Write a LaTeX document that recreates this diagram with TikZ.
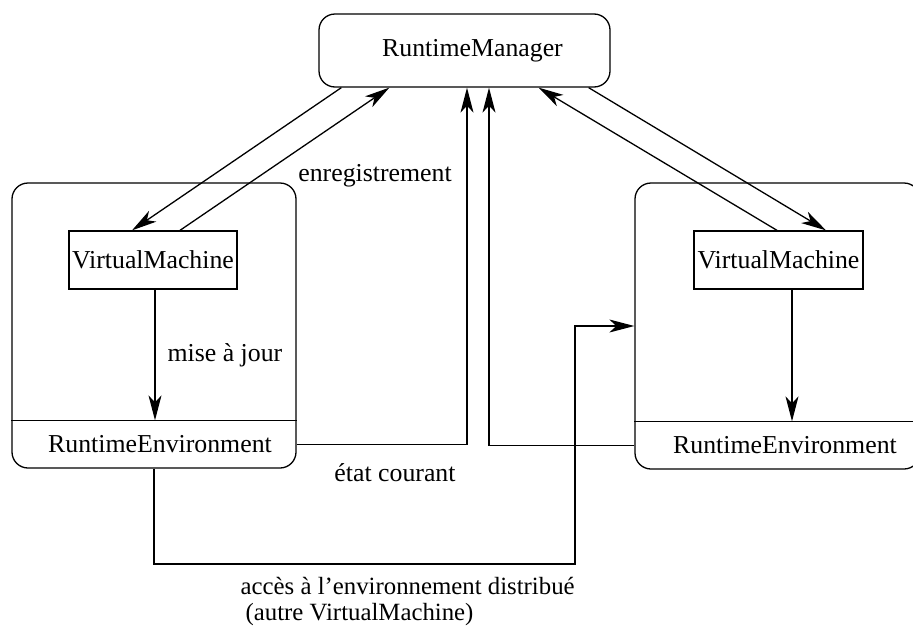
\documentclass[tikz,border=0pt]{standalone}
\usepackage{fontspec}
\setmainfont{Liberation Serif}
\usetikzlibrary{arrows.meta}
\begin{document}
\begin{tikzpicture}[x=1pt,y=-1pt,
  line width=1.3pt,
  txt/.style={font=\fontsize{25.8}{23}\selectfont, inner sep=0pt},
  rbox/.style={draw, rounded corners=16pt, inner sep=0pt},
  vmbox/.style={draw, inner sep=0pt, minimum width=168pt, minimum height=58pt, txt},
  envlabel/.style={inner sep=0pt, minimum height=47pt, anchor=south, txt},
  arr/.style={-{Stealth[length=25pt,width=13pt,inset=7pt]}}]
\clip (0,0) rectangle (913,627);

% manager
\node[rbox, minimum width=291pt, minimum height=73pt, txt] (rm) at (464.5,50.5) {\hspace*{16pt}RuntimeManager};

% left runtime
\node[rbox, minimum width=284pt, minimum height=285pt] (envL) at (154,325.5) {};
\node[envlabel, minimum width=284pt] (reL) at (envL.south) {\hspace*{12pt}RuntimeEnvironment};
\draw (reL.north west) -- (reL.north east);
\node[vmbox] (vmL) at (153,260) {VirtualMachine};

% right runtime
\node[rbox, minimum width=285pt, minimum height=286pt] (envR) at (777.5,326) {};
\node[envlabel, minimum width=285pt] (reR) at (envR.south) {\hspace*{15pt}RuntimeEnvironment};
\draw (reR.north west) -- (reR.north east);
\node[vmbox, minimum width=169pt] (vmR) at (778.5,260) {VirtualMachine};

% registration links
\draw[arr] ([xshift=23pt]rm.south west) -- ([xshift=-21pt]vmL.north);
\draw[arr] ([xshift=27pt]vmL.north) -- ([xshift=71pt]rm.south west);
\draw[arr] ([xshift=-22pt]rm.south east) -- ([xshift=47.5pt]vmR.north);
\draw[arr] ([xshift=-1.5pt]vmR.north) -- ([xshift=-72pt]rm.south east);

% updates
\draw[arr] ([xshift=2pt]vmL.south) -- ([xshift=2pt]vmL.south |- reL.north);
\draw[arr] ([xshift=13.5pt]vmR.south) -- ([xshift=13.5pt]vmR.south |- reR.north);

% current state
\draw[arr] (reL.east) -| ([xshift=2.5pt]rm.south);
\draw[arr] (reR.west) -| ([xshift=24.5pt]rm.south);

% distributed access
\coordinate (dLow) at (575,564);
\draw[arr] (envL.south) |- (dLow) |- (envR.west);

% labels
\node[txt] (lblReg) at (375,176) {enregistrement};
\node[txt, anchor=west] (lblUpd) at (167,355) {mise à jour};
\node[txt] (lblState) at (395,473) {état courant};
\node[txt, font=\fontsize{24.8}{26}\selectfont, align=left, anchor=south west] (lblAcc) at (240,626)
  {accès à l’environnement distribué\\\hspace*{5pt}(autre VirtualMachine)};
\end{tikzpicture}
\end{document}
